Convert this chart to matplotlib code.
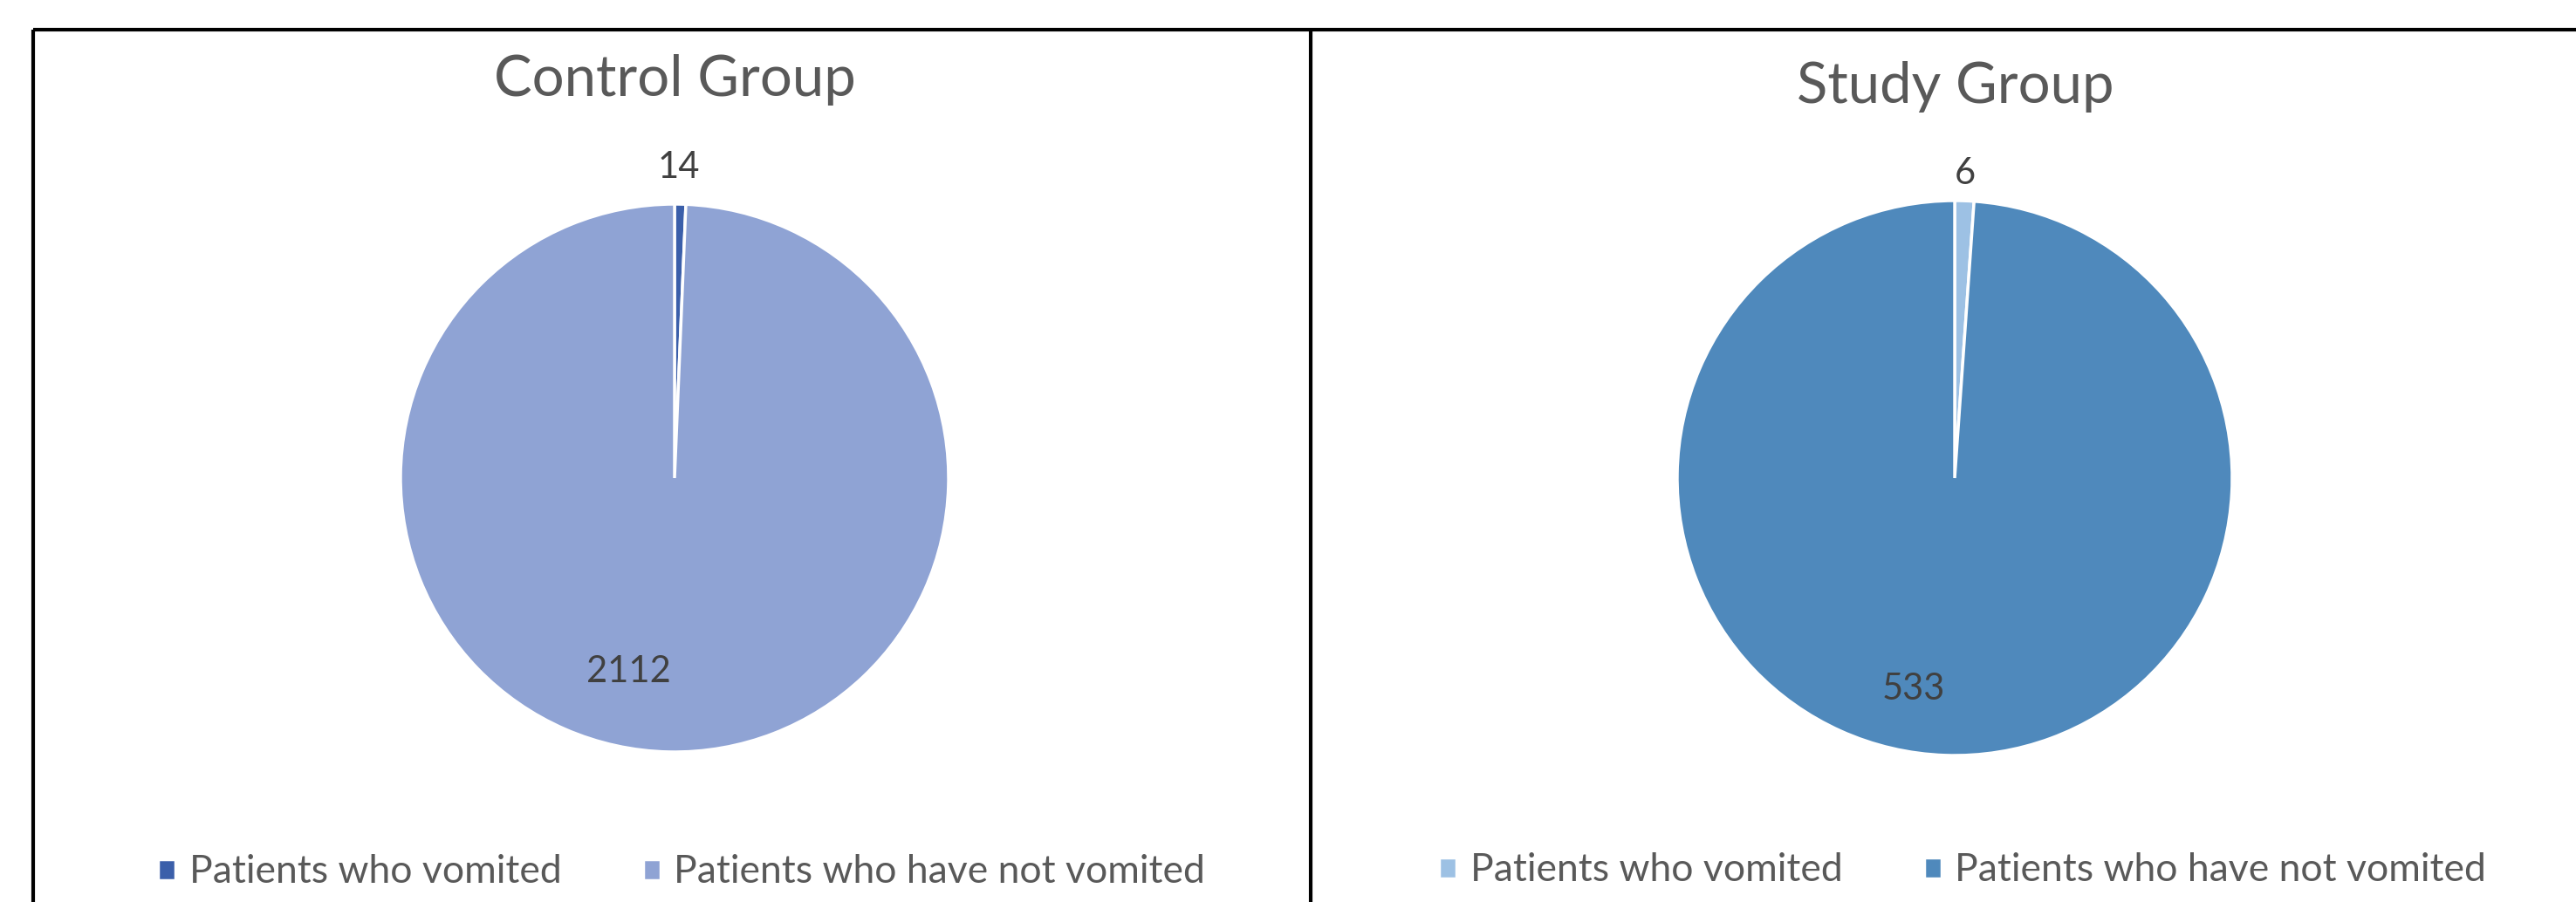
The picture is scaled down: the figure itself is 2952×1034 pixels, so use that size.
"""
Pie charts: vomiting in control vs study group (Excel-style layout)
"""

import matplotlib
matplotlib.use('Agg')
import matplotlib.pyplot as plt
from matplotlib.lines import Line2D

# data
categories = ['Patients who vomited', 'Patients who have not vomited']
control_values = [14, 2112]
study_values = [6, 533]
titles = ['Control Group', 'Study Group']

control_colors = ['#3B5FAA', '#8FA3D4']
study_colors = ['#9DC1E4', '#4F89BC']

W, H = 2952, 1034
DPI = 100

plt.rcParams['font.family'] = ['Lato', 'DejaVu Sans']

fig = plt.figure(figsize=(W / DPI, H / DPI), dpi=DPI)
fig.patch.set_facecolor('white')


def px_axes(cx, cy, r):
    # square axes, centre and radius in pixels measured from the top left
    return fig.add_axes([(cx - r) / W, (H - cy - r) / H, 2 * r / W, 2 * r / H])


panels = [
    dict(values=control_values, colors=control_colors, title=titles[0],
         cx=773, cy=548, r=314, title_y=110, title_x=773,
         label_pos=[(0.016, 1.134), (-0.169, -0.707)],
         legend_x=781, legend_y=1000),
    dict(values=study_values, colors=study_colors, title=titles[1],
         cx=2240, cy=548, r=318, title_y=118, title_x=2241,
         label_pos=[(0.038, 1.097), (-0.148, -0.761)],
         legend_x=2249, legend_y=998),
]

for p in panels:
    ax = px_axes(p['cx'], p['cy'], p['r'])
    wedges, _ = ax.pie(p['values'], colors=p['colors'], startangle=90,
                       counterclock=False,
                       wedgeprops=dict(edgecolor='white', linewidth=2.5))
    ax.set_xlim(-1, 1)
    ax.set_ylim(-1, 1)
    ax.set_aspect('equal')
    ax.axis('off')

    # data labels
    for val, (lx, ly) in zip(p['values'], p['label_pos']):
        ax.text(lx, ly, str(val), ha='center', va='center',
                fontsize=30, color='#404040')

    fig.text(p['title_x'] / W, 1 - p['title_y'] / H, p['title'],
             ha='center', va='baseline', fontsize=47, color='#595959')

    fig.legend(wedges, categories, ncol=2, loc='center',
               bbox_to_anchor=(p['legend_x'] / W, 1 - p['legend_y'] / H),
               frameon=False, fontsize=32, labelcolor='#595959',
               handlelength=0.45, handleheight=0.45, handletextpad=0.35,
               columnspacing=2.1, borderpad=0, borderaxespad=0)

# borders around the two chart panels
line_kw = dict(color='black', linewidth=3.0, solid_capstyle='butt')
fig.add_artist(Line2D([38 / W, 1.0], [1 - 34 / H, 1 - 34 / H], **line_kw))
fig.add_artist(Line2D([38 / W, 38 / W], [1 - 34 / H, 0.0], **line_kw))
fig.add_artist(Line2D([1502 / W, 1502 / W], [1 - 34 / H, 0.0], **line_kw))

fig.savefig('out.png', dpi=DPI, facecolor='white')
plt.close(fig)
